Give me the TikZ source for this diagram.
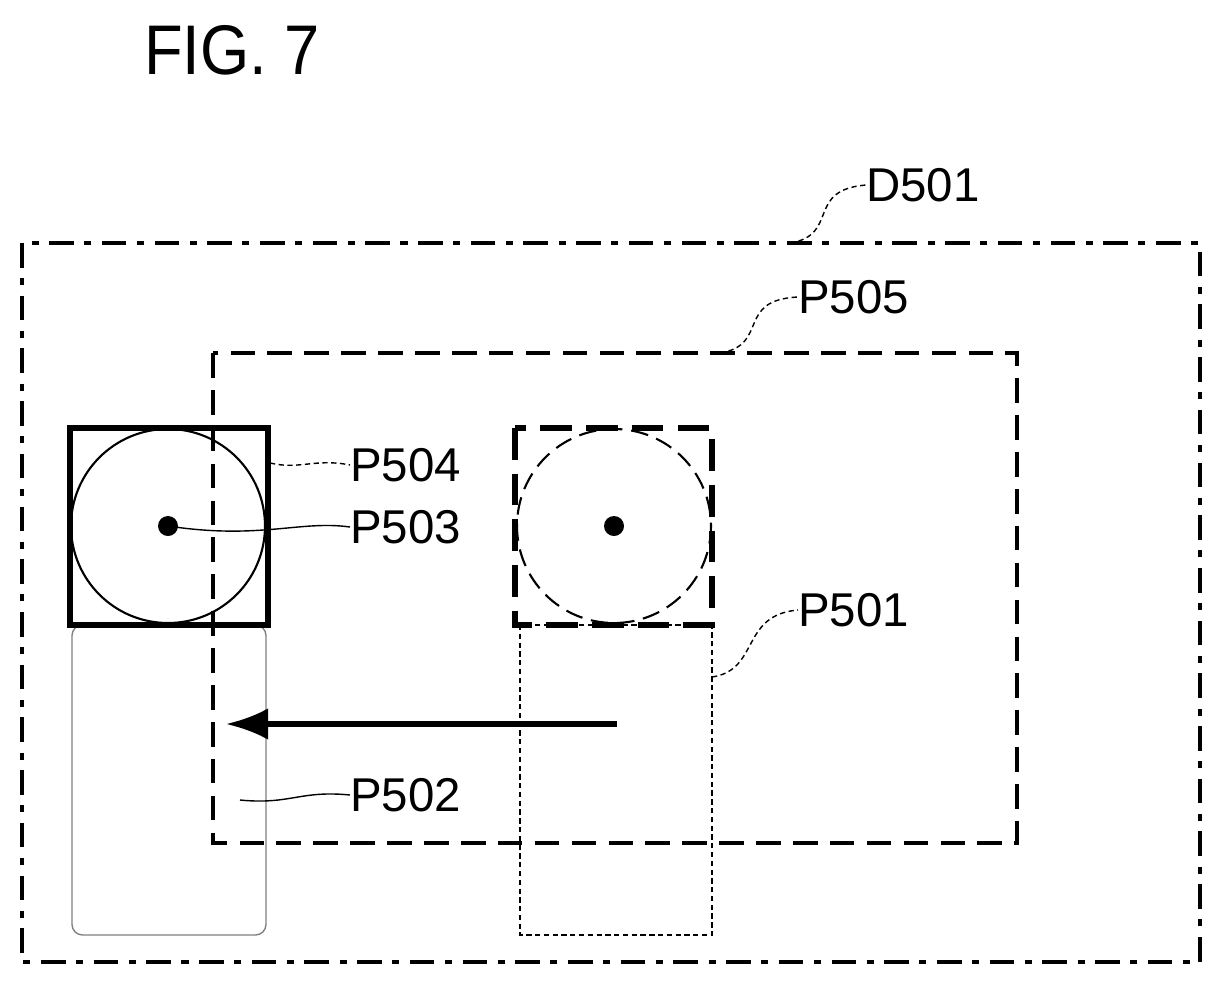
\documentclass[tikz,border=0pt]{standalone}
\usepackage{fontspec}
\setmainfont{Liberation Sans}
\usetikzlibrary{arrows.meta}
\begin{document}
\begin{tikzpicture}[x=0.02cm,y=-0.02cm,
  lbl/.style={font=\fontsize{27}{27}\selectfont,anchor=west,inner sep=0pt},
  lead/.style={line width=0.8pt,dash pattern=on 3pt off 2pt},
  dd/.style={line width=2pt,dash pattern=on 14pt off 6pt on 4pt off 6pt}]
\useasboundingbox (0,0) rectangle (1221,985);
\node[font=\fontsize{40}{40}\selectfont,anchor=center,xscale=0.9] (fig) at (232,50) {FIG. 7};
% D501
\draw[dd] (22,243) rectangle (1200,962);
\node[lbl] (d501) at (866,185) {D501};
\coordinate (d5a) at (790,243);
\draw[lead] (d5a) .. controls (840,235) and (805,190) .. (d501.west);
% P505
\draw[line width=2pt,dash pattern=on 14pt off 7pt] (213,353) rectangle (1017,843);
\node[lbl] (p505) at (798,297) {P505};
\coordinate (p5a) at (720,353);
\draw[lead] (p5a) .. controls (770,345) and (735,300) .. (p505.west);
% left object
\draw[line width=0.8pt,draw=gray,rounded corners=6pt] (72,625) rectangle (266,935);
\draw[line width=3pt] (70,428) rectangle (268,625);
\draw[line width=1.2pt] (168,526) circle (97);
\fill (168,526) circle (10) coordinate (dotL);
% right object
\draw[line width=0.8pt,dash pattern=on 3pt off 2pt] (520,625) rectangle (712,935);
\draw[line width=3pt,dash pattern=on 18pt off 8pt] (515,428) rectangle (712,625);
\draw[line width=1.2pt,dash pattern=on 10pt off 5pt] (614,526) circle (97);
\fill (614,526) circle (10);
% arrow
\coordinate (as) at (617,724);
\coordinate (ae) at (226,724);
\draw[line width=3pt,-{Latex[length=24pt,width=18pt]}] (as) -- (ae);
% labels
\node[lbl] (p504) at (350,465) {P504};
\draw[lead] (270,463) .. controls (300,470) and (315,458) .. (p504.west);
\node[lbl] (p503) at (350,527) {P503};
\draw[line width=0.8pt] (dotL) .. controls (260,540) and (300,520) .. (p503.west);
\node[lbl] (p501) at (798,610) {P501};
\coordinate (p1a) at (712,677);
\draw[lead] (p1a) .. controls (760,670) and (740,615) .. (p501.west);
\node[lbl] (p502) at (350,795) {P502};
\draw[line width=0.8pt] (240,800) .. controls (290,805) and (300,790) .. (p502.west);
\end{tikzpicture}
\end{document}
